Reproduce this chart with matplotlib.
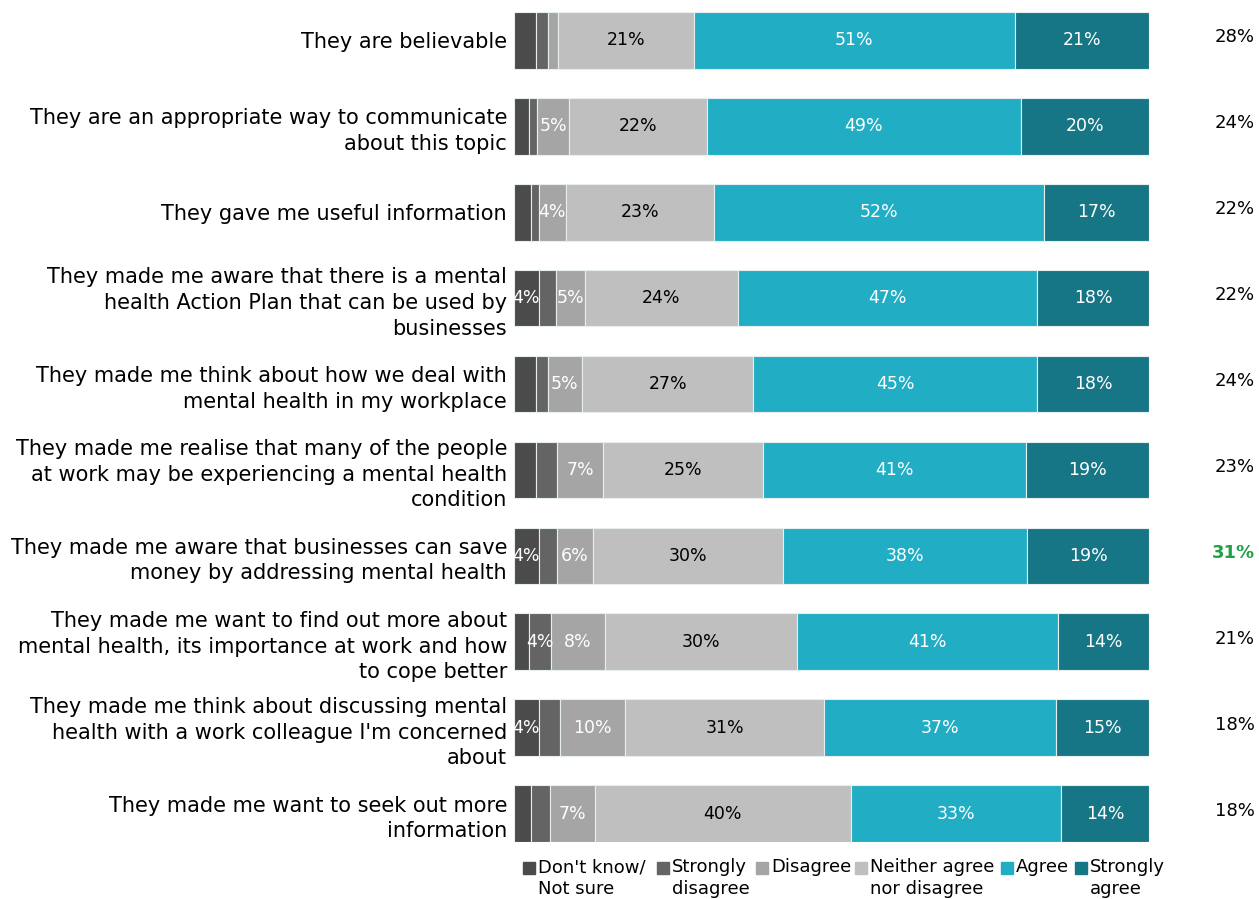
import numpy as np
import matplotlib
matplotlib.use('Agg')
import matplotlib.pyplot as plt
from matplotlib.patches import Rectangle

plt.rcParams['font.family'] = 'DejaVu Sans'

statements = [
    "They are believable",
    "They are an appropriate way to communicate\nabout this topic",
    "They gave me useful information",
    "They made me aware that there is a mental\nhealth Action Plan that can be used by\nbusinesses",
    "They made me think about how we deal with\nmental health in my workplace",
    "They made me realise that many of the people\nat work may be experiencing a mental health\ncondition",
    "They made me aware that businesses can save\nmoney by addressing mental health",
    "They made me want to find out more about\nmental health, its importance at work and how\nto cope better",
    "They made me think about discussing mental\nhealth with a work colleague I'm concerned\nabout",
    "They made me want to seek out more\ninformation",
]

responses = ["Don't know/\nNot sure", "Strongly\ndisagree", "Disagree",
             "Neither agree\nnor disagree", "Agree", "Strongly\nagree"]

dont_know = [3.4, 2.3, 2.6, 3.9, 3.4, 3.4, 3.9, 2.3, 3.9, 2.6]
strongly_disagree = [1.9, 1.4, 1.3, 2.7, 1.9, 3.4, 2.9, 3.6, 3.4, 3.0]
disagree = [1.6, 5.0, 4.3, 4.6, 5.4, 7.2, 5.6, 8.4, 10.2, 7.2]
neither = [21.4, 21.7, 23.3, 24.0, 27.0, 25.2, 30.0, 30.2, 31.3, 40.2]
agree = [50.6, 49.4, 51.9, 47.2, 44.7, 41.4, 38.4, 41.1, 36.6, 33.2]
strongly_agree = [21.1, 20.2, 16.6, 17.6, 17.6, 19.4, 19.2, 14.4, 14.6, 13.8]

right_values = ["28%", "24%", "22%", "22%", "24%", "23%", "31%", "21%", "18%", "18%"]
highlight = [False, False, False, False, False, False, True, False, False, False]

series = [dont_know, strongly_disagree, disagree, neither, agree, strongly_agree]
colors = ['#4b4b4b', '#646464', '#a5a5a5', '#bfbfbf', '#21aec5', '#177685']
text_colors = ['white', 'white', 'white', 'black', 'white', 'white']

W, H = 1259, 899
fig = plt.figure(figsize=(W / 100, H / 100), dpi=100)
ax = fig.add_axes([514 / W, 1 - 842 / H, (1149 - 514) / W, (842 - 12) / H])

y = np.arange(len(statements))
left = np.zeros(len(statements))
for vals, col, tcol in zip(series, colors, text_colors):
    vals = np.array(vals)
    ax.barh(y, vals, left=left, height=0.66, color=col,
            edgecolor='#e6eef0', linewidth=0.8)
    for yi, v, l in zip(y, vals, left):
        if round(v) >= 4:
            ax.text(l + v / 2, yi, f"{round(v)}%", ha='center', va='center',
                    color=tcol, fontsize=12.5)
    left += vals

ax.set_xlim(0, 100)
ax.set_ylim(len(statements) - 1 + 0.33, -0.33)
ax.set_yticks(y)
ax.set_yticklabels(statements, fontsize=15, ha='right', linespacing=1.35)
ax.tick_params(axis='y', length=0, pad=5)
ax.set_xticks([])
for s in ax.spines.values():
    s.set_visible(False)

# right-hand column of percentages
for yi, txt, hl in zip(y, right_values, highlight):
    ax.annotate(txt, xy=(1, yi), xycoords=('axes fraction', 'data'),
                xytext=(1255 - 1149, 3), textcoords='offset pixels',
                ha='right', va='center', fontsize=13,
                color='#22a045' if hl else 'black',
                fontweight='bold' if hl else 'normal')

# legend, squares aligned with first text line
leg_x = [523, 657, 756, 855, 1001, 1075]
sq = 12
for lx, col, name in zip(leg_x, colors, responses):
    fig.patches.append(Rectangle((lx / W, 1 - (868 + sq / 2) / H), sq / W, sq / H,
                                 transform=fig.transFigure, color=col))
    fig.text((lx + sq + 3) / W, 1 - 858 / H, name, ha='left', va='top',
             fontsize=13, linespacing=1.3)

fig.savefig('out.png', dpi=100)
